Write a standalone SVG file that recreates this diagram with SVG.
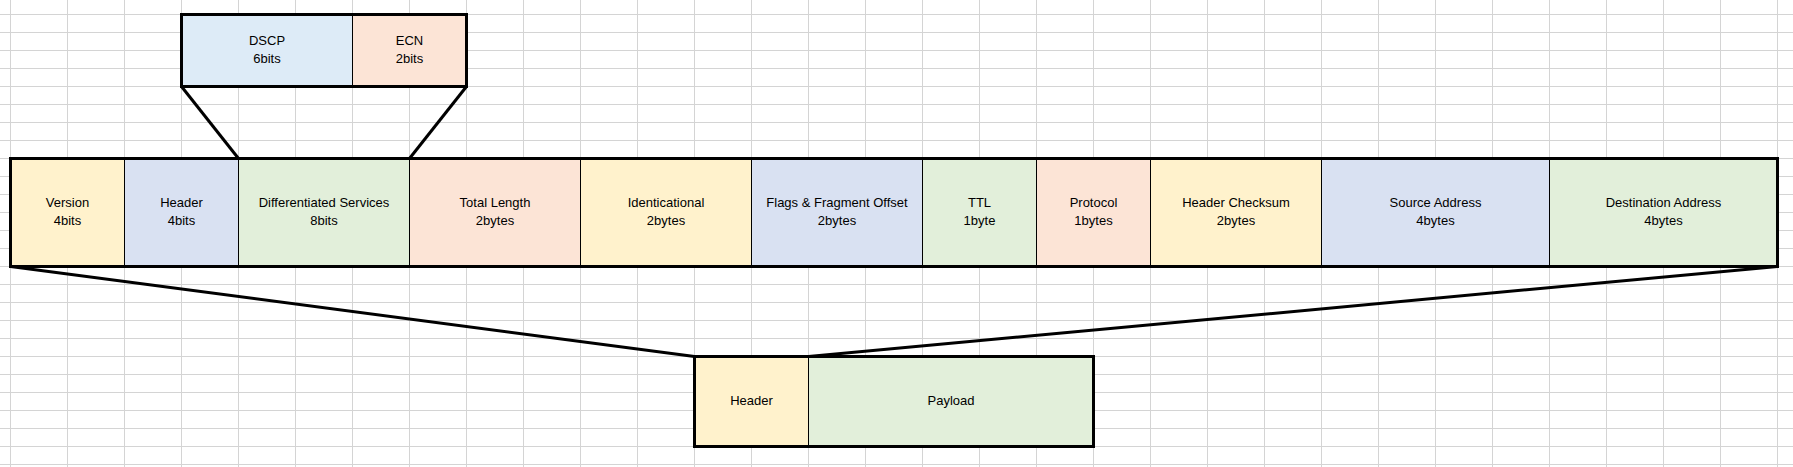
<svg xmlns="http://www.w3.org/2000/svg" width="1793" height="467" viewBox="0 0 1793 467">
<defs>
<pattern id="grid" x="10.5" y="14.5" width="57" height="18" patternUnits="userSpaceOnUse">
<path d="M0.5 0V18M0 0.5H57" fill="none" stroke="#d4d4d4" stroke-width="1" transform="translate(-0.5,-0.5)"/>
</pattern>
</defs>
<style>
.cell{stroke:#000;stroke-width:1}
.frame{fill:none;stroke:#000;stroke-width:3}
.y{fill:#FFF2CC}.b{fill:#D9E1F2}.g{fill:#E2EFDA}.o{fill:#FCE4D6}.lb{fill:#DDEBF7}
text{font-family:"Liberation Sans",Arial,sans-serif;font-size:13px;fill:#000;text-anchor:middle}
.conn line{stroke:#000;stroke-width:3;stroke-linecap:butt}
</style>
<rect width="1793" height="467" fill="#fff"/>
<g id="grid-bg" stroke="#d4d4d4" stroke-width="1">
<path d="M10.5 0V467M67.5 0V467M124.5 0V467M181.5 0V467M238.5 0V467M295.5 0V467M352.5 0V467M409.5 0V467M466.5 0V467M523.5 0V467M580.5 0V467M637.5 0V467M694.5 0V467M751.5 0V467M808.5 0V467M865.5 0V467M922.5 0V467M979.5 0V467M1036.5 0V467M1093.5 0V467M1150.5 0V467M1207.5 0V467M1264.5 0V467M1321.5 0V467M1378.5 0V467M1435.5 0V467M1492.5 0V467M1549.5 0V467M1606.5 0V467M1663.5 0V467M1720.5 0V467M1777.5 0V467"/>
<path d="M0 14.5H1793M0 32.5H1793M0 50.5H1793M0 68.5H1793M0 86.5H1793M0 104.5H1793M0 122.5H1793M0 140.5H1793M0 158.5H1793M0 176.5H1793M0 194.5H1793M0 212.5H1793M0 230.5H1793M0 248.5H1793M0 266.5H1793M0 284.5H1793M0 302.5H1793M0 320.5H1793M0 338.5H1793M0 356.5H1793M0 374.5H1793M0 392.5H1793M0 410.5H1793M0 428.5H1793M0 446.5H1793M0 464.5H1793"/>
</g>
<g id="ds-field">
<rect class="cell lb" x="181.5" y="14.5" width="171" height="72"/>
<text x="267" y="45.3">DSCP</text><text x="267" y="63.3">6bits</text>
<rect class="cell o" x="352.5" y="14.5" width="114" height="72"/>
<text x="409.5" y="45.3">ECN</text><text x="409.5" y="63.3">2bits</text>
<rect class="frame" x="181.5" y="14.5" width="285" height="72"/>
</g>
<g id="ip-header">
<g id="version"><rect class="cell y" x="10.5" y="158.5" width="114" height="108"/><text x="67.5" y="207.3">Version</text><text x="67.5" y="225.3">4bits</text></g>
<g id="header-len"><rect class="cell b" x="124.5" y="158.5" width="114" height="108"/><text x="181.5" y="207.3">Header</text><text x="181.5" y="225.3">4bits</text></g>
<g id="diffserv"><rect class="cell g" x="238.5" y="158.5" width="171" height="108"/><text x="324" y="207.3">Differentiated Services</text><text x="324" y="225.3">8bits</text></g>
<g id="total-length"><rect class="cell o" x="409.5" y="158.5" width="171" height="108"/><text x="495" y="207.3">Total Length</text><text x="495" y="225.3">2bytes</text></g>
<g id="identification"><rect class="cell y" x="580.5" y="158.5" width="171" height="108"/><text x="666" y="207.3">Identicational</text><text x="666" y="225.3">2bytes</text></g>
<g id="flags"><rect class="cell b" x="751.5" y="158.5" width="171" height="108"/><text x="837" y="207.3">Flags &amp; Fragment Offset</text><text x="837" y="225.3">2bytes</text></g>
<g id="ttl"><rect class="cell g" x="922.5" y="158.5" width="114" height="108"/><text x="979.5" y="207.3">TTL</text><text x="979.5" y="225.3">1byte</text></g>
<g id="protocol"><rect class="cell o" x="1036.5" y="158.5" width="114" height="108"/><text x="1093.5" y="207.3">Protocol</text><text x="1093.5" y="225.3">1bytes</text></g>
<g id="checksum"><rect class="cell y" x="1150.5" y="158.5" width="171" height="108"/><text x="1236" y="207.3">Header Checksum</text><text x="1236" y="225.3">2bytes</text></g>
<g id="source"><rect class="cell b" x="1321.5" y="158.5" width="228" height="108"/><text x="1435.5" y="207.3">Source Address</text><text x="1435.5" y="225.3">4bytes</text></g>
<g id="destination"><rect class="cell g" x="1549.5" y="158.5" width="228" height="108"/><text x="1663.5" y="207.3">Destination Address</text><text x="1663.5" y="225.3">4bytes</text></g>
<rect class="frame" x="10.5" y="158.5" width="1767" height="108"/>
</g>
<g id="packet">
<rect class="cell y" x="694.5" y="356.5" width="114" height="90"/><text x="751.5" y="405.3">Header</text>
<rect class="cell g" x="808.5" y="356.5" width="285" height="90"/><text x="951" y="405.3">Payload</text>
<rect class="frame" x="694.5" y="356.5" width="399" height="90"/>
</g>
<g id="connectors" class="conn">
<line x1="181.5" y1="86.5" x2="238.5" y2="158.5"/>
<line x1="466.5" y1="86.5" x2="409.5" y2="158.5"/>
<line x1="10.5" y1="266.5" x2="694.5" y2="356.5"/>
<line x1="1777.5" y1="266.5" x2="808.5" y2="356.5"/>
</g>
</svg>
